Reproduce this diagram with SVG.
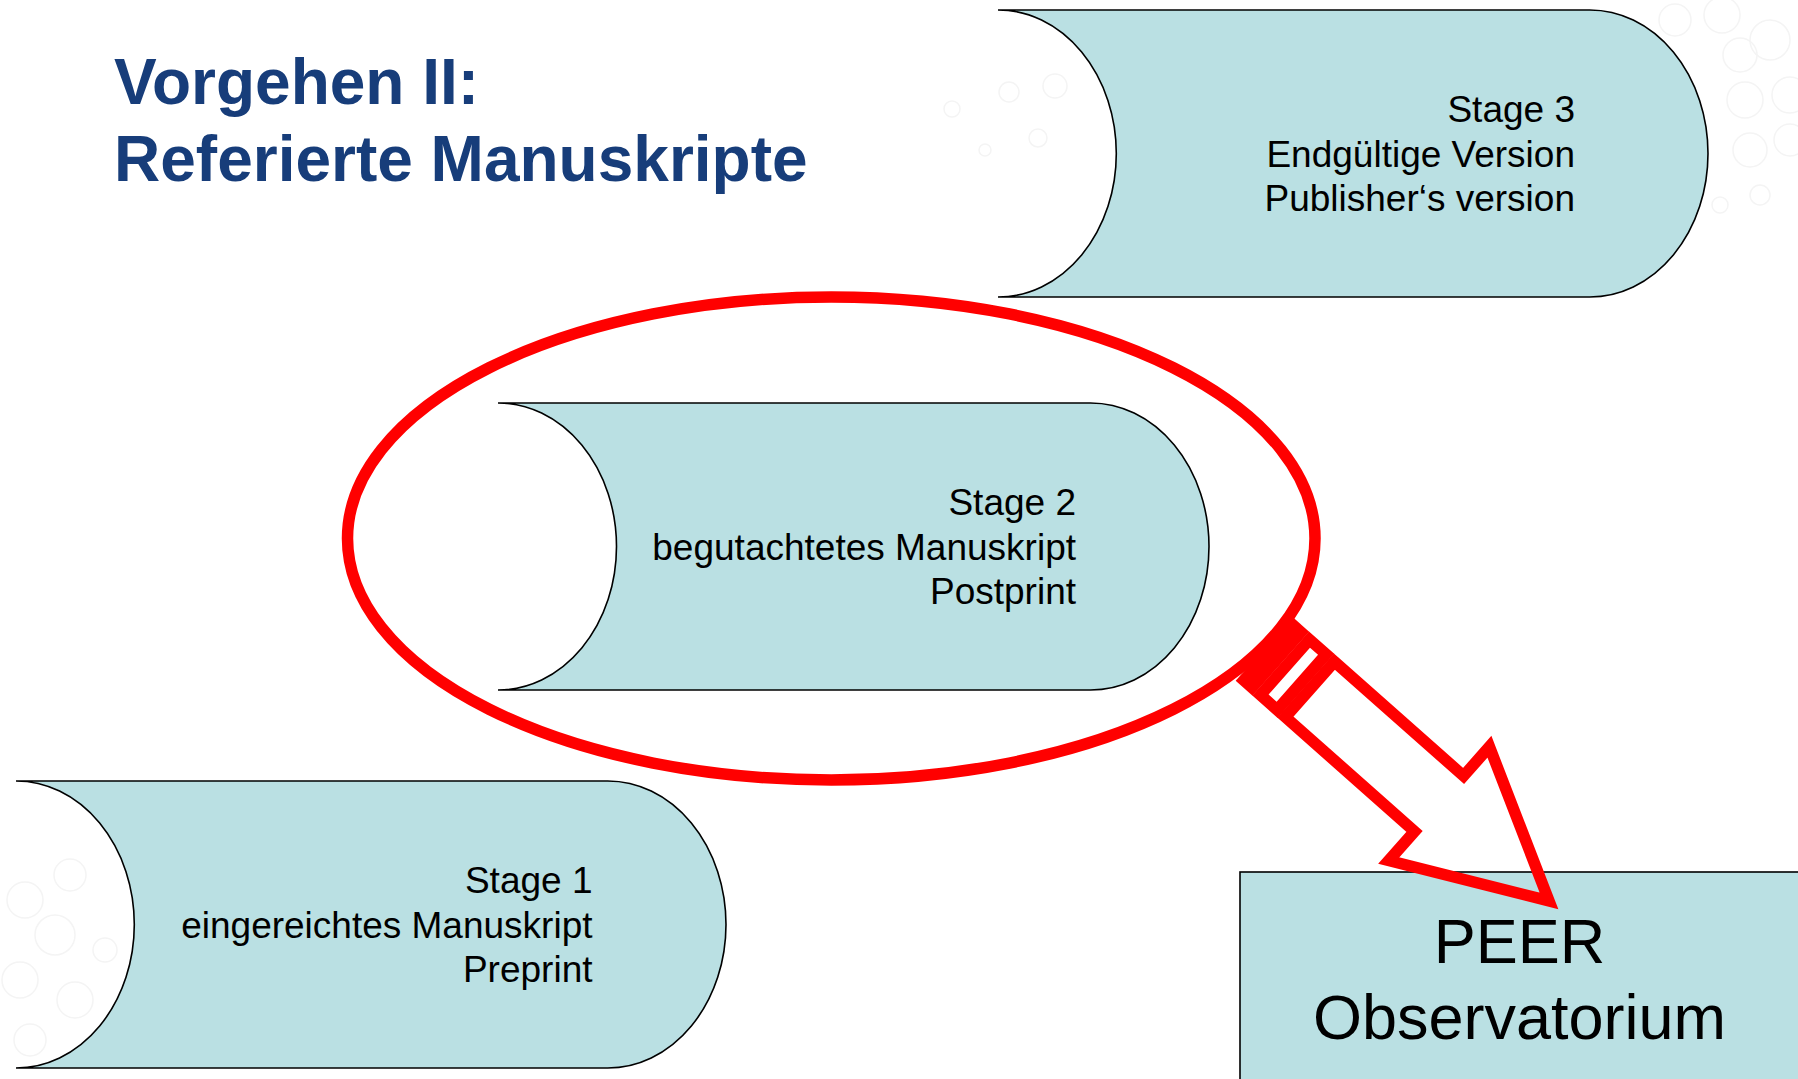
<svg xmlns="http://www.w3.org/2000/svg" width="1798" height="1079" viewBox="0 0 1798 1079">
  <style>
    .stage { fill: #bae0e3; stroke: #000; stroke-width: 1.6; }
    .stxt { font-family: "Liberation Sans", Arial, sans-serif; font-size: 37px; fill: #000; text-anchor: end; }
    .peer { font-family: "Liberation Sans", Arial, sans-serif; font-size: 63px; fill: #000; text-anchor: middle; }
    .title { font-family: "Liberation Sans", Arial, sans-serif; font-size: 64px; font-weight: bold; fill: #173d7a; }
    .red { fill: none; stroke: #ff0000; stroke-width: 11.5; }
    .bg circle { fill: none; stroke: #f4f4f4; stroke-width: 1.5; }
  </style>
  <rect width="1798" height="1079" fill="#ffffff"/>
  <g class="bg">
    <circle cx="952" cy="109" r="8"/>
    <circle cx="1009" cy="92" r="10"/>
    <circle cx="1038" cy="138" r="9"/>
    <circle cx="1055" cy="86" r="12"/>
    <circle cx="985" cy="150" r="6"/>
    <circle cx="1675" cy="20" r="16"/>
    <circle cx="1722" cy="15" r="18"/>
    <circle cx="1770" cy="40" r="20"/>
    <circle cx="1740" cy="55" r="17"/>
    <circle cx="1745" cy="100" r="18"/>
    <circle cx="1790" cy="95" r="18"/>
    <circle cx="1750" cy="150" r="17"/>
    <circle cx="1790" cy="140" r="16"/>
    <circle cx="1760" cy="195" r="10"/>
    <circle cx="1720" cy="205" r="8"/>
    <circle cx="25" cy="900" r="18"/>
    <circle cx="70" cy="875" r="16"/>
    <circle cx="55" cy="935" r="20"/>
    <circle cx="20" cy="980" r="18"/>
    <circle cx="75" cy="1000" r="18"/>
    <circle cx="30" cy="1040" r="16"/>
    <circle cx="95" cy="1050" r="14"/>
    <circle cx="105" cy="950" r="12"/>
  </g>

  <g id="title">
    <text class="title" x="114" y="104">Vorgehen II:</text>
    <text class="title" x="114" y="181">Referierte Manuskripte</text>
  </g>

  <g id="stage3">
    <path class="stage" d="M998,10 L1589.7,10 A118.3,143.5 0 0 1 1589.7,297 L998,297 A118.3,143.5 0 0 0 998,10 Z"/>
    <text class="stxt" x="1575" y="122">Stage 3</text>
    <text class="stxt" x="1575" y="166.5">Endgültige Version</text>
    <text class="stxt" x="1575" y="211">Publisher‘s version</text>
  </g>

  <g id="stage2">
    <path class="stage" d="M498,403 L1090.5,403 A118.5,143.5 0 0 1 1090.5,690 L498,690 A118.5,143.5 0 0 0 498,403 Z"/>
    <text class="stxt" x="1076" y="515">Stage 2</text>
    <text class="stxt" x="1076" y="559.5">begutachtetes Manuskript</text>
    <text class="stxt" x="1076" y="604">Postprint</text>
  </g>

  <g id="stage1">
    <path class="stage" d="M16,781 L607.7,781 A118.3,143.5 0 0 1 607.7,1068 L16,1068 A118.3,143.5 0 0 0 16,781 Z"/>
    <text class="stxt" x="592.5" y="893">Stage 1</text>
    <text class="stxt" x="592.5" y="937.5">eingereichtes Manuskript</text>
    <text class="stxt" x="592.5" y="982">Preprint</text>
  </g>

  <g id="peer">
    <rect class="stage" x="1240" y="872" width="620" height="260"/>
    <text class="peer" x="1519.5" y="963">PEER</text>
    <text class="peer" x="1519.5" y="1039">Observatorium</text>
  </g>

  <g id="highlight">
    <ellipse class="red" cx="831.25" cy="538.5" rx="483.75" ry="241.5"/>
  </g>

  <g id="connectors">
    <g transform="translate(1203.9,595.6) rotate(41.5)">
      <rect class="red" x="86" y="-37" width="11" height="74"/>
      <rect class="red" x="108.25" y="-37" width="22.25" height="74"/>
      <path class="red" d="M141.5,-37 L314,-37 L314,-76 L460.8,0 L314,76 L314,37 L141.5,37 Z"/>
    </g>
  </g>
</svg>
